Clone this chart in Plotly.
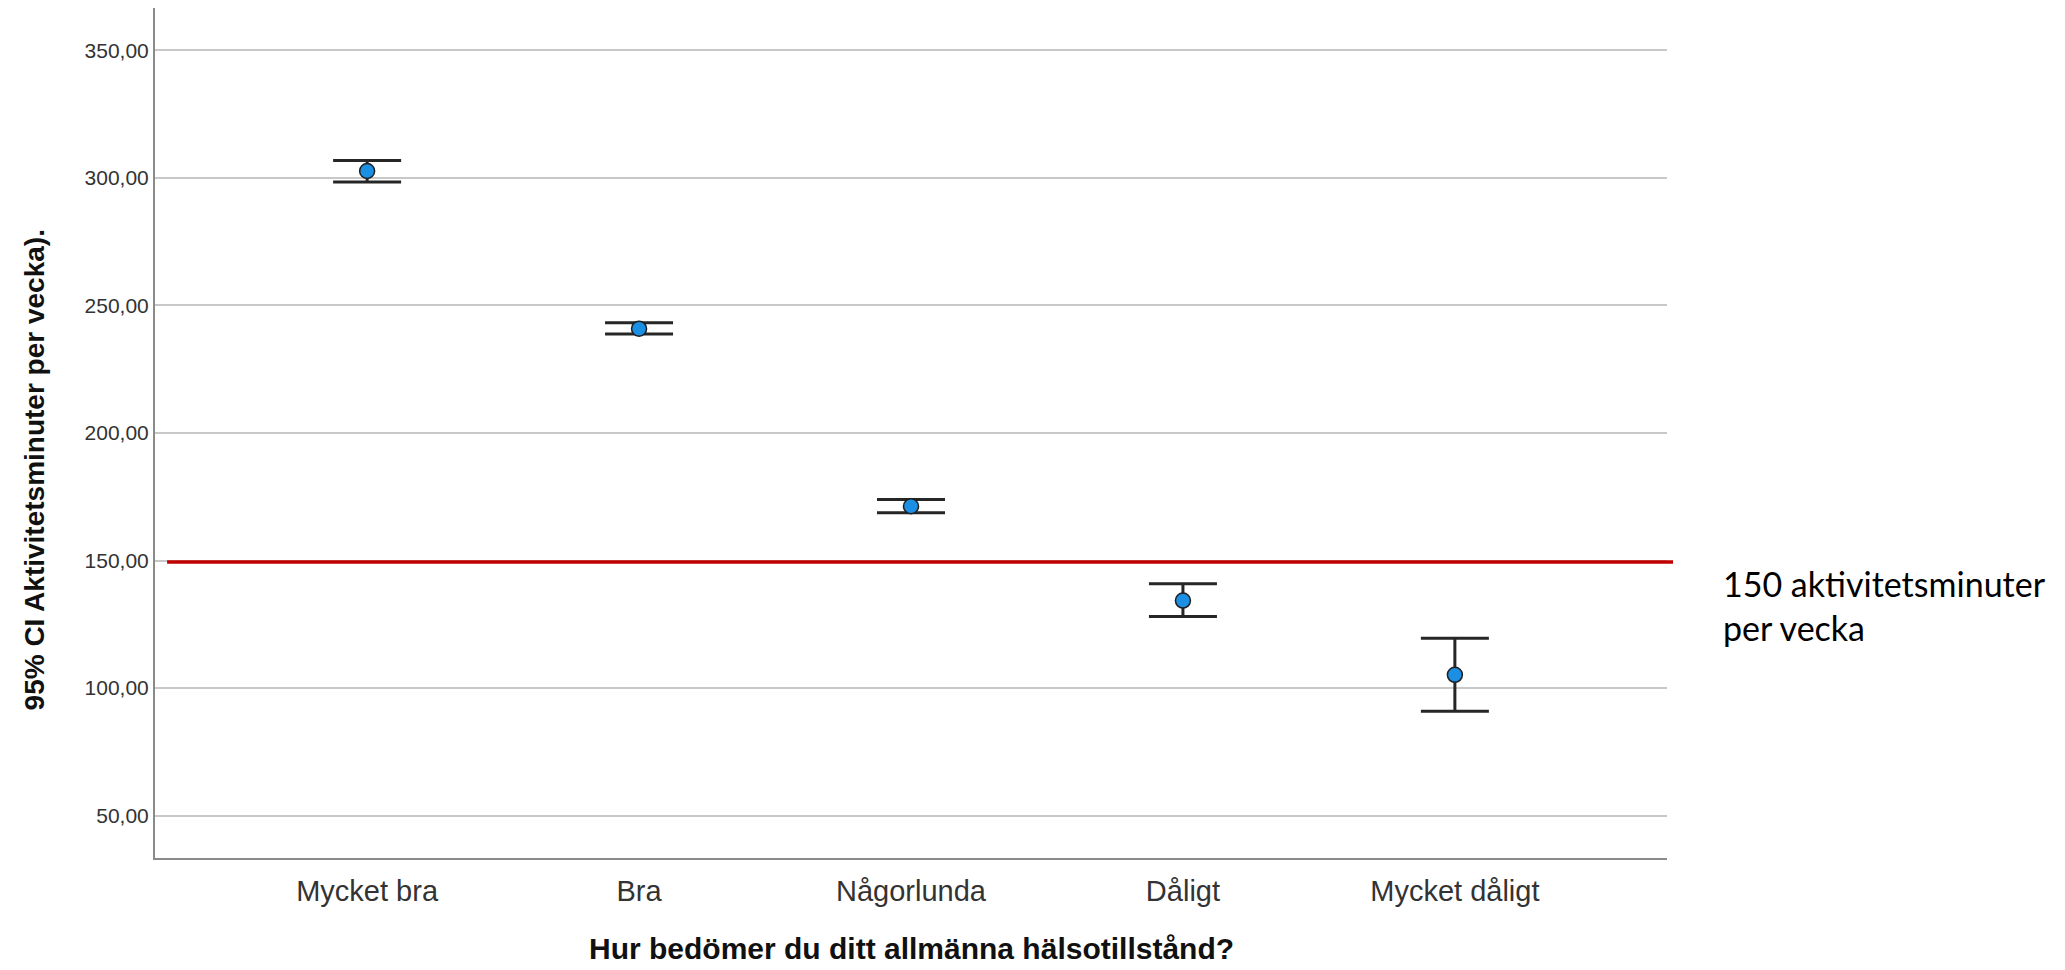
import plotly.graph_objects as go

# ---- data ----
categories = ["Mycket bra", "Bra", "Någorlunda", "Dåligt", "Mycket dåligt"]
means = [302.7, 240.9, 171.3, 134.3, 105.2]
ci_upper = [306.8, 243.2, 173.9, 140.9, 119.5]
ci_lower = [298.4, 238.8, 168.7, 128.1, 90.9]
threshold = 150
y_tick_vals = [50, 100, 150, 200, 250, 300, 350]
y_tick_text = ["50,00", "100,00", "150,00", "200,00", "250,00", "300,00", "350,00"]

err_plus = [u - m for u, m in zip(ci_upper, means)]
err_minus = [m - l for m, l in zip(means, ci_lower)]

fig = go.Figure()
fig.add_trace(go.Scatter(
    x=categories, y=means, mode="markers",
    marker=dict(size=15, color="#1a8fe3", line=dict(color="#1f1f1f", width=1.5)),
    error_y=dict(type="data", symmetric=False, array=err_plus, arrayminus=err_minus,
                 color="#262626", thickness=3, width=34),
    showlegend=False, cliponaxis=False,
))

fig.add_shape(type="line", xref="paper", yref="y",
              x0=0.008, x1=1.004, y0=threshold - 0.6, y1=threshold - 0.6,
              line=dict(color="#c00000", width=3.5), layer="above")

fig.update_layout(
    width=2065, height=970, autosize=False,
    margin=dict(l=155, r=398, t=8, b=112),
    paper_bgcolor="white", plot_bgcolor="white",
    font=dict(family="Liberation Sans, Arial, sans-serif", color="#333333"),
    xaxis=dict(
        type="category", range=[-0.78, 4.78],
        showline=True, linecolor="#8a8a8a", linewidth=2,
        showgrid=False, ticks="", tickfont=dict(size=29, color="#333333"),
        ticklabelstandoff=6,
        fixedrange=True,
    ),
    yaxis=dict(
        range=[33.4, 366.6], tickvals=y_tick_vals, ticktext=y_tick_text,
        showline=True, linecolor="#8a8a8a", linewidth=2,
        showgrid=True, gridcolor="#c8c8c8", gridwidth=2, zeroline=False,
        ticks="", tickfont=dict(size=21, color="#333333"),
        fixedrange=True,
    ),
    annotations=[
        dict(text="<b>95% CI Aktivitetsminuter per vecka).</b>", textangle=-90,
             xref="paper", yref="paper", x=-0.080, y=0.456,
             xanchor="center", yanchor="middle", showarrow=False,
             font=dict(size=28, color="#111111", family="Liberation Sans, Arial, sans-serif")),
        dict(text="<b>Hur bedömer du ditt allmänna hälsotillstånd?</b>",
             xref="paper", yref="paper", x=0.5, y=-0.106,
             xanchor="center", yanchor="middle", showarrow=False,
             font=dict(size=30, color="#111111", family="Liberation Sans, Arial, sans-serif")),
        dict(text="150 aktivitetsminuter<br>per vecka",
             xref="paper", yref="paper", x=1.0357, y=0.297,
             xanchor="left", yanchor="middle", align="left", showarrow=False,
             font=dict(size=34, color="#000000", family="Lato, Open Sans, sans-serif")),
    ],
)

fig.write_html("out.html")
